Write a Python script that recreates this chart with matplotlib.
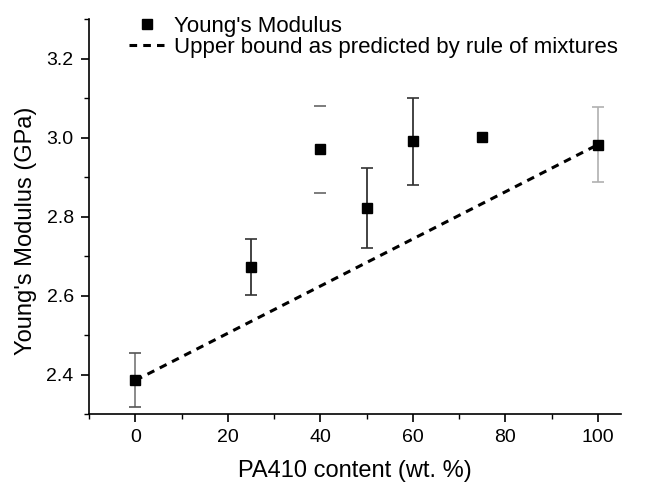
import matplotlib
matplotlib.use("Agg")
import matplotlib.pyplot as plt
from matplotlib.ticker import MultipleLocator, FormatStrFormatter

plt.rcParams['font.family'] = ['Liberation Sans', 'DejaVu Sans']

# data
content = [0, 25, 40, 50, 60, 75, 100]
modulus = [2.385, 2.672, 2.970, 2.822, 2.990, 3.002, 2.982]
err_up = [0.070, 0.070, 0.110, 0.100, 0.110, 0.0, 0.095]
err_down = [0.068, 0.070, 0.110, 0.102, 0.110, 0.0, 0.095]
bound_x = [0, 100]
bound_y = [2.385, 2.982]

fig = plt.figure(figsize=(6.70, 4.84), dpi=100)
ax = fig.add_axes([0.1328, 0.1446, 0.7941, 0.8161])

# error bars, drawn one by one since their styles differ in the original
bar_colors = ['#777777', '#222222', 'none', '#222222', '#222222', 'none', '#b0b0b0']
cap_colors = ['#555555', '#333333', '#666666', '#333333', '#333333', 'none', '#b0b0b0']
for i in range(len(content)):
    if err_up[i] == 0:
        continue
    eb = ax.errorbar(content[i], modulus[i], yerr=[[err_down[i]], [err_up[i]]],
                     fmt='none', ecolor=bar_colors[i], elinewidth=1.2,
                     capsize=4, capthick=1.2, zorder=2)
    for cap in eb[1]:
        cap.set_color(cap_colors[i])
        cap.set_markeredgecolor(cap_colors[i])

ax.plot(bound_x, bound_y, linestyle=(0, (2.5, 2)), color='black', linewidth=2.2,
        label='Upper bound as predicted by rule of mixtures', zorder=3)
ax.plot(content, modulus, linestyle='none', marker='s', markersize=6.5,
        color='black', label="Young's Modulus", zorder=4)

ax.set_xlim(-10, 105)
ax.set_ylim(2.3, 3.3)
ax.xaxis.set_major_locator(MultipleLocator(20))
ax.xaxis.set_minor_locator(MultipleLocator(10))
ax.yaxis.set_major_locator(MultipleLocator(0.2))
ax.yaxis.set_minor_locator(MultipleLocator(0.1))
ax.set_xticks([0, 20, 40, 60, 80, 100])
ax.set_yticks([2.4, 2.6, 2.8, 3.0, 3.2])
ax.yaxis.set_major_formatter(FormatStrFormatter('%.1f'))

ax.spines['top'].set_visible(False)
ax.spines['right'].set_visible(False)
for s in ['left', 'bottom']:
    ax.spines[s].set_linewidth(1.2)
ax.tick_params(which='major', direction='out', length=6, width=1.2,
               labelsize=14, pad=5)
ax.tick_params(which='minor', direction='out', length=3.5, width=1.0)

ax.set_xlabel('PA410 content (wt. %)', fontsize=17, labelpad=10)
ax.set_ylabel("Young's Modulus (GPa)", fontsize=17)
ax.yaxis.set_label_coords(-0.098, 0.463)

handles, labels = ax.get_legend_handles_labels()
ax.legend(handles[::-1], labels[::-1], loc='upper left',
          bbox_to_anchor=(0.18, 0.985), bbox_transform=fig.transFigure,
          frameon=False, fontsize=16, handlelength=1.55, handletextpad=0.45,
          labelspacing=0.0, borderaxespad=0)

fig.savefig('out.png', dpi=100)
